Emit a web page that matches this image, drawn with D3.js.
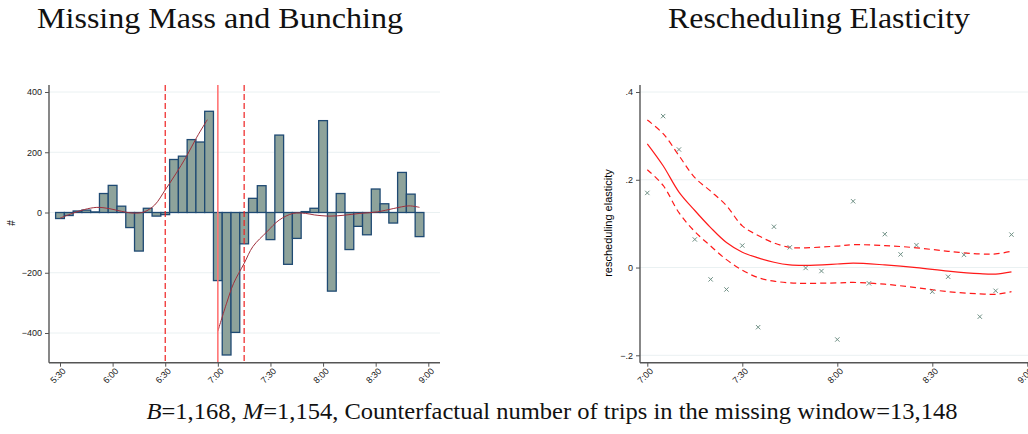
<!DOCTYPE html>
<head>
<meta charset="utf-8">
<style>
body { margin: 0; background: #fff; }
.tick text { font-family: "Liberation Sans", Arial, sans-serif; font-size: 9px; fill: #222; }
.title { font-family: "Liberation Serif", serif; font-size: 29px; fill: #111; }
</style>
</head>
<body>
<script src="https://d3js.org/d3.v7.min.js"></script>
<script>

// ---- left panel data: 5-minute bins, excess / missing trips
var binTimes = ["5:30","5:35","5:40","5:45","5:50","5:55","6:00","6:05","6:10","6:15","6:20","6:25","6:30","6:35",
                "6:40","6:45","6:50","6:55","7:00","7:05","7:10","7:15","7:20","7:25","7:30","7:35","7:40","7:45",
                "7:50","7:55","8:00","8:05","8:10","8:15","8:20","8:25","8:30","8:35","8:40","8:45","8:50","8:55"];
var binCounts = [-20,-10,5,8,2,63,90,21,-50,-128,14,-12,-7,176,187,242,234,336,-226,-473,-398,-104,47,89,-90,257,
                 -172,-86,3,14,305,-261,63,-123,-46,-74,78,29,-35,133,61,-80];

// polynomial fit before the window
var fitPreTimes  = ["5:30","5:37","5:44","5:51","5:58","6:05","6:12","6:18","6:24","6:30","6:36","6:42","6:48","6:54"];
var fitPreValues = [-19,-3,10,17,13,4,-2,2,25,75,128,185,250,308];
// polynomial fit after the window
var fitPostTimes  = ["7:00","7:05","7:09","7:15","7:20","7:28","7:35","7:43","7:50","7:55","8:04","8:12","8:21","8:31","8:40","8:49","8:55"];
var fitPostValues = [-394,-301,-235,-169,-113,-64,-25,-3,-3,-8,-12,-9,-3,2,13,22,17];

var leftTicks = ["5:30","6:00","6:30","7:00","7:30","8:00","8:30","9:00"];
var leftYTicks = [-400,-200,0,200,400];
var windowStart = "6:30", windowMid = "7:00", windowEnd = "7:15";

// ---- right panel data
var elasTimes = ["7:00","7:05","7:10","7:15","7:20","7:25","7:30","7:35","7:40","7:45","7:50","7:55",
                 "8:00","8:05","8:10","8:15","8:20","8:25","8:30","8:35","8:40","8:45","8:50","8:55"];
var elasValues = [0.170,0.345,0.269,0.064,-0.027,-0.050,0.050,-0.136,0.093,0.046,-0.001,-0.008,
                  -0.164,0.151,-0.036,0.076,0.030,0.051,-0.055,-0.021,0.029,-0.112,-0.053,0.075];

var fitTimes = ["7:00","7:05","7:10","7:15","7:20","7:25","7:30","7:35","7:40","7:45","7:50","8:00","8:05","8:15","8:25","8:35","8:45","8:50","8:55"];
var fitMid   = [0.282,0.232,0.172,0.130,0.091,0.057,0.035,0.022,0.012,0.006,0.005,0.008,0.010,0.006,0.000,-0.008,-0.014,-0.015,-0.010];
var fitHigh  = [0.336,0.305,0.255,0.205,0.174,0.141,0.095,0.073,0.056,0.046,0.045,0.049,0.052,0.050,0.045,0.037,0.031,0.031,0.037];
var fitLow   = [0.223,0.187,0.125,0.082,0.049,0.018,-0.006,-0.023,-0.031,-0.035,-0.036,-0.035,-0.034,-0.038,-0.046,-0.055,-0.060,-0.061,-0.055];

var rightTicks = ["7:00","7:30","8:00","8:30","9:00"];
var rightYTicks = [-0.2,0,0.2,0.4];

function mins(t) { var p = t.split(":"); return +p[0] * 60 + +p[1]; }

var svg = d3.select("body").append("svg")
    .attr("width", 1028)
    .attr("height", 434);

var gridColor = "#eaf1f2", axisColor = "#555";

// ================= left panel =================
var xL = d3.scaleLinear().domain([mins("5:30"), mins("9:00")]).range([60, 428.3]);
var yL = d3.scaleLinear().domain([-400, 400]).range([333, 92]);
var left = svg.append("g");

left.selectAll(".grid").data(leftYTicks).enter().append("line")
    .attr("x1", 49).attr("x2", 440)
    .attr("y1", d => yL(d)).attr("y2", d => yL(d))
    .style("stroke", gridColor).style("stroke-width", 1);

left.selectAll(".bar").data(binTimes).enter().append("rect")
    .attr("x", d => xL(mins(d) - 2.5))
    .attr("width", d => xL(mins(d) + 2.5) - xL(mins(d) - 2.5))
    .attr("y", (d, i) => yL(Math.max(0, binCounts[i])))
    .attr("height", (d, i) => Math.abs(yL(binCounts[i]) - yL(0)))
    .style("fill", "#8ea39b")
    .style("stroke", "#1f4a73")
    .style("stroke-width", 1.3);

var lineL = d3.line().curve(d3.curveCatmullRom)
    .x(d => xL(mins(d[0]))).y(d => yL(d[1]));
left.append("path").datum(d3.zip(fitPreTimes, fitPreValues))
    .attr("d", lineL).style("fill", "none").style("stroke", "#a0303c").style("stroke-width", 1);
left.append("path").datum(d3.zip(fitPostTimes, fitPostValues))
    .attr("d", lineL).style("fill", "none").style("stroke", "#a0303c").style("stroke-width", 1);

// window markers
[[windowStart, "6,3", "#ee2222"], [windowMid, null, "#ff7575"], [windowEnd, "6,3", "#ee2222"]].forEach(function(w) {
  left.append("line")
    .attr("x1", xL(mins(w[0]))).attr("x2", xL(mins(w[0])))
    .attr("y1", 85).attr("y2", 362.7)
    .style("stroke", w[2]).style("stroke-width", w[1] ? 1.2 : 1.6)
    .style("stroke-dasharray", w[1]);
});

var axL = left.append("g").attr("transform", "translate(49,0)")
    .call(d3.axisLeft(yL).tickValues(leftYTicks).tickSize(4).tickPadding(3));
axL.select(".domain").attr("d", "M0,85V362.7").style("stroke", axisColor).style("stroke-width", 1.4);
axL.selectAll(".tick line").style("stroke", axisColor);

var axLb = left.append("g").attr("transform", "translate(0,362.7)")
    .call(d3.axisBottom(xL).tickValues(leftTicks.map(mins)).tickSize(4)
      .tickFormat((d, i) => leftTicks[i]));
axLb.select(".domain").attr("d", "M49,0H440").style("stroke", axisColor).style("stroke-width", 1.4);
axLb.selectAll(".tick line").style("stroke", axisColor);
axLb.selectAll(".tick text").attr("text-anchor", "end")
    .attr("transform", "translate(4,7) rotate(-45)").attr("dy", "0.3em").attr("y", 0);

left.append("text").attr("transform", "translate(15,223) rotate(-90)")
    .attr("text-anchor", "middle")
    .style("font-family", "Liberation Sans, Arial, sans-serif").style("font-size", "10px")
    .text("#");

left.append("text").attr("class", "title").attr("x", 220).attr("y", 28)
    .attr("text-anchor", "middle")
    .attr("textLength", 366).attr("lengthAdjust", "spacingAndGlyphs")
    .text("Missing Mass and Bunching");

// ================= right panel =================
var xR = d3.scaleLinear().domain([mins("7:00"), mins("9:00")]).range([647.3, 1027.3]);
var yR = d3.scaleLinear().domain([-0.2, 0.4]).range([355.3, 92]);
var right = svg.append("g");

right.selectAll(".grid").data(rightYTicks).enter().append("line")
    .attr("x1", 640).attr("x2", 1028)
    .attr("y1", d => yR(d)).attr("y2", d => yR(d))
    .style("stroke", gridColor).style("stroke-width", 1);

var lineR = d3.line().curve(d3.curveCatmullRom)
    .x(d => xR(mins(d[0]))).y(d => yR(d[1]));
right.append("path").datum(d3.zip(fitTimes, fitHigh)).attr("d", lineR)
    .style("fill", "none").style("stroke", "#ff1a1a").style("stroke-width", 1.2).style("stroke-dasharray", "6,4");
right.append("path").datum(d3.zip(fitTimes, fitLow)).attr("d", lineR)
    .style("fill", "none").style("stroke", "#ff1a1a").style("stroke-width", 1.2).style("stroke-dasharray", "6,4");
right.append("path").datum(d3.zip(fitTimes, fitMid)).attr("d", lineR)
    .style("fill", "none").style("stroke", "#ff1a1a").style("stroke-width", 1.2);

var sym = d3.symbol().type(d3.symbolX).size(14);
right.selectAll(".pt").data(elasTimes).enter().append("path")
    .attr("d", sym)
    .attr("transform", (d, i) => "translate(" + xR(mins(d)) + "," + yR(elasValues[i]) + ")")
    .style("fill", "none").style("stroke", "#6e8f84").style("stroke-width", 1);

var axR = right.append("g").attr("transform", "translate(640,0)")
    .call(d3.axisLeft(yR).tickValues(rightYTicks).tickSize(4).tickPadding(3)
      .tickFormat(d => d === 0 ? "0" : d3.format(".1f")(d).replace("0.", ".")));
axR.select(".domain").attr("d", "M0,85V362.7").style("stroke", axisColor).style("stroke-width", 1.4);
axR.selectAll(".tick line").style("stroke", axisColor);

var axRb = right.append("g").attr("transform", "translate(0,362.7)")
    .call(d3.axisBottom(xR).tickValues(rightTicks.map(mins)).tickSize(4)
      .tickFormat((d, i) => rightTicks[i]));
axRb.select(".domain").attr("d", "M640,0H1028").style("stroke", axisColor).style("stroke-width", 1.4);
axRb.selectAll(".tick line").style("stroke", axisColor);
axRb.selectAll(".tick text").attr("text-anchor", "end")
    .attr("transform", "translate(4,7) rotate(-45)").attr("dy", "0.3em").attr("y", 0);

right.append("text").attr("transform", "translate(612,223) rotate(-90)")
    .attr("text-anchor", "middle")
    .style("font-family", "Liberation Sans, Arial, sans-serif").style("font-size", "11px")
    .text("rescheduling elasticity");

right.append("text").attr("class", "title").attr("x", 819).attr("y", 28)
    .attr("text-anchor", "middle")
    .attr("textLength", 302).attr("lengthAdjust", "spacingAndGlyphs")
    .text("Rescheduling Elasticity");

// ================= caption =================
var cap = svg.append("text").attr("class", "title").attr("x", 552).attr("y", 419)
    .attr("text-anchor", "middle").style("font-size", "24px")
    .attr("textLength", 811).attr("lengthAdjust", "spacingAndGlyphs");
cap.append("tspan").style("font-style", "italic").text("B");
cap.append("tspan").text("=1,168, ");
cap.append("tspan").style("font-style", "italic").text("M");
cap.append("tspan").text("=1,154, Counterfactual number of trips in the missing window=13,148");

</script>
</body>
